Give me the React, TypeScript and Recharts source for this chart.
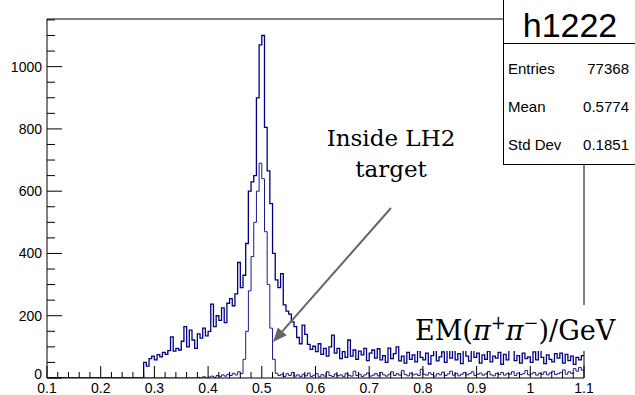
import { ComposedChart, Line, XAxis, YAxis, ReferenceLine } from "recharts";

// histogram binning (ROOT style, 0.005 GeV bins)
const BIN_WIDTH = 0.005;
const X_MIN = 0.1;
const X_MAX = 1.1;
const Y_MAX = 1153;

// all events, bins starting at 0.28
const WIDE_START = 0.28;
const WIDE = [
  50, 38, 62, 70, 58, 75, 68, 82, 76, 88,
  132, 86, 95, 90, 118, 165, 100, 154, 122, 95,
  142, 128, 160, 135, 150, 237, 165, 200, 185, 225,
  178, 240, 255, 232, 270, 371, 290, 330, 432, 600,
  630, 650, 900, 1070, 1100, 805, 665, 560, 400, 315,
  290, 335, 235, 215, 205, 180, 165, 130, 110, 170,
  140, 108, 92, 102, 85, 110, 76, 95, 70, 100,
  138, 80, 95, 62, 85, 66, 122, 70, 90, 60,
  86, 74, 95, 56, 80, 90, 64, 94, 58, 72,
  50, 96, 62, 78, 100, 55, 70, 48, 82, 60,
  74, 52, 88, 66, 58, 80, 45, 72, 90, 55,
  68, 84, 50, 100, 64, 96, 58, 78, 46, 92,
  70, 54, 108, 66, 80, 48, 74, 60, 86, 52,
  70, 64, 82, 44, 76, 58, 100, 94, 56, 72,
  48, 80, 62, 68, 50, 84, 58, 90, 66, 46,
  74, 60, 52, 78, 64, 80, 48, 76, 56, 70,
  44, 66, 58, 72,
];

// vertex inside LH2 target, bins starting at 0.38
const NARROW_START = 0.38;
const NARROW = [
  2, 0, 4, 0, 3, 6, 2, 8, 4, 10,
  6, 12, 8, 15, 10, 20, 14, 60, 150, 280,
  390, 500, 600, 690, 640, 470, 300, 160, 60, 15,
  8, 12, 5, 14, 8, 18, 6, 10, 4, 12,
  7, 16, 5, 9, 14, 4, 11, 6, 20, 8,
  5, 13, 7, 10, 4, 15, 9, 6, 22, 8,
  12, 5, 10, 16, 6, 9, 14, 7, 18, 10,
  6, 12, 20, 8, 14, 9, 24, 11, 7, 16,
  10, 13, 8, 28, 12, 9, 17, 11, 6, 14,
  10, 19, 8, 13, 22, 9, 15, 7, 12, 18,
  10, 14, 20, 8, 12, 16, 9, 13, 21, 10,
  7, 15, 11, 18, 9, 14, 12, 20, 8, 16,
  11, 14, 24, 10, 13, 18, 9, 15, 12, 20,
  10, 16, 22, 11, 14, 18, 26, 12, 20, 15,
  30, 22, 34, 25,
];

const X_LABELS = ["0.1", "0.2", "0.3", "0.4", "0.5", "0.6", "0.7", "0.8", "0.9", "1", "1.1"];
const Y_LABELS = ["0", "200", "400", "600", "800", "1000"];

const STATS = [
  ["Entries", "77368"],
  ["Mean", "0.5774"],
  ["Std Dev", "0.1851"],
];

const W = 635;
const H = 395;
const PLOT_LEFT = 47;
const PLOT_BOTTOM = 378;
const AXIS_FONT = "'Liberation Sans', Arial, Helvetica, sans-serif";
const SERIF = "'DejaVu Serif', serif";
const NAVY = "#000080";

const nBins = Math.round((X_MAX - X_MIN) / BIN_WIDTH);
const wideOff = Math.round((WIDE_START - X_MIN) / BIN_WIDTH);
const narrowOff = Math.round((NARROW_START - X_MIN) / BIN_WIDTH);

const pick = (arr: number[], off: number, i: number) => {
  const k = Math.min(i, nBins - 1) - off;
  return k >= 0 && k < arr.length ? arr[k] : 0;
};

// bin left edges + closing point at X_MAX for the step line
const data = Array.from({ length: nBins + 1 }, (_, i) => ({
  x: Math.round((X_MIN + i * BIN_WIDTH) * 1000) / 1000,
  wide: pick(WIDE, wideOff, i),
  narrow: pick(NARROW, narrowOff, i),
}));

const xTicks = Array.from({ length: 51 }, (_, k) => Math.round((X_MIN + k * 0.02) * 1000) / 1000);
const yTicks = Array.from({ length: 24 }, (_, k) => k * 50);

function XTick({ x, payload }: any) {
  const v = payload.value as number;
  const major = Math.abs(v * 10 - Math.round(v * 10)) < 1e-6;
  return (
    <g>
      <line x1={x} x2={x} y1={PLOT_BOTTOM} y2={PLOT_BOTTOM - (major ? 12 : 6)} stroke="#000" />
      {major && (
        <text x={x} y={393} textAnchor="middle" fontFamily={AXIS_FONT} fontSize={14} fill="#000">
          {X_LABELS[Math.round((v - X_MIN) * 10)]}
        </text>
      )}
    </g>
  );
}

function YTick({ y, payload }: any) {
  const v = payload.value as number;
  const major = v % 200 === 0;
  return (
    <g>
      <line x1={PLOT_LEFT} x2={PLOT_LEFT + (major ? 15 : 8)} y1={y} y2={y} stroke="#000" />
      {major && (
        <text
          x={42}
          y={y}
          dy={v === 0 ? 1 : 5}
          textAnchor="end"
          fontFamily={AXIS_FONT}
          fontSize={14}
          fill="#000"
        >
          {Y_LABELS[v / 200]}
        </text>
      )}
    </g>
  );
}

function Arrow({ x1, y1, x2, y2 }: any) {
  const dx = x2 - x1;
  const dy = y2 - y1;
  const len = Math.hypot(dx, dy) || 1;
  const ux = dx / len;
  const uy = dy / len;
  const bx = x2 - ux * 14;
  const by = y2 - uy * 14;
  const px = -uy * 6;
  const py = ux * 6;
  return (
    <g>
      <line x1={x1} y1={y1} x2={bx} y2={by} stroke="#666" strokeWidth={2} />
      <polygon points={`${x2},${y2} ${bx + px},${by + py} ${bx - px},${by - py}`} fill="#666" />
    </g>
  );
}

export default function App() {
  return (
    <div style={{ position: "absolute", left: 0, top: 0, width: W, height: H, background: "#fff" }}>
      <ComposedChart width={W} height={H} data={data} margin={{ top: 19, right: 51, bottom: 0, left: 0 }}>
        <XAxis
          type="number"
          dataKey="x"
          domain={[X_MIN, X_MAX]}
          ticks={xTicks}
          interval={0}
          tick={<XTick />}
          tickLine={false}
          axisLine={{ stroke: "#000" }}
          height={17}
          allowDataOverflow
        />
        <YAxis
          type="number"
          domain={[0, Y_MAX]}
          ticks={yTicks}
          interval={0}
          tick={<YTick />}
          tickLine={false}
          axisLine={{ stroke: "#000" }}
          width={47}
          allowDataOverflow
        />
        <ReferenceLine y={Y_MAX} stroke="#000" />
        <ReferenceLine x={X_MAX} stroke="#000" />
        <Line
          dataKey="wide"
          type="stepAfter"
          stroke={NAVY}
          strokeWidth={1.3}
          dot={false}
          isAnimationActive={false}
        />
        <Line
          dataKey="narrow"
          type="stepAfter"
          stroke="#1a1a8c"
          strokeWidth={1}
          dot={false}
          isAnimationActive={false}
        />
        <ReferenceLine
          segment={[
            { x: 0.7406, y: 546 },
            { x: 0.5209, y: 116 },
          ]}
          shape={<Arrow />}
          ifOverflow="visible"
        />
      </ComposedChart>
      <svg
        width={W}
        height={H}
        style={{ position: "absolute", left: 0, top: 0, pointerEvents: "none" }}
      >
        {/* stats box */}
        <rect x={503.5} y={-1} width={140} height={165.5} fill="#fff" stroke="#000" />
        <line x1={503.5} x2={W} y1={43.5} y2={43.5} stroke="#000" />
        <text x={570} y={37} textAnchor="middle" fontFamily={AXIS_FONT} fontSize={34} fill="#000">
          h1222
        </text>
        {STATS.map(([k, v], i) => (
          <g key={k}>
            <text x={508} y={74 + i * 38} fontFamily={AXIS_FONT} fontSize={15} fill="#000">
              {k}
            </text>
            <text x={629} y={74 + i * 38} textAnchor="end" fontFamily={AXIS_FONT} fontSize={15} fill="#000">
              {v}
            </text>
          </g>
        ))}
        {/* annotation */}
        <text x={391} y={146} textAnchor="middle" fontFamily={SERIF} fontSize={23} fill="#000">
          Inside LH2
        </text>
        <text x={391} y={177} textAnchor="middle" fontFamily={SERIF} fontSize={23} fill="#000">
          target
        </text>
        {/* axis title */}
        <rect x={410} y={305} width={206} height={46} fill="#fff" />
        <text x={415} y={340} fontFamily={SERIF} fontSize={27} fill="#000">
          EM(<tspan fontStyle="italic">π</tspan>
          <tspan dy={-11} fontSize={18}>+</tspan>
          <tspan dy={11} fontStyle="italic">π</tspan>
          <tspan dy={-11} fontSize={18}>−</tspan>
          <tspan dy={11}>)/GeV</tspan>
        </text>
      </svg>
    </div>
  );
}
